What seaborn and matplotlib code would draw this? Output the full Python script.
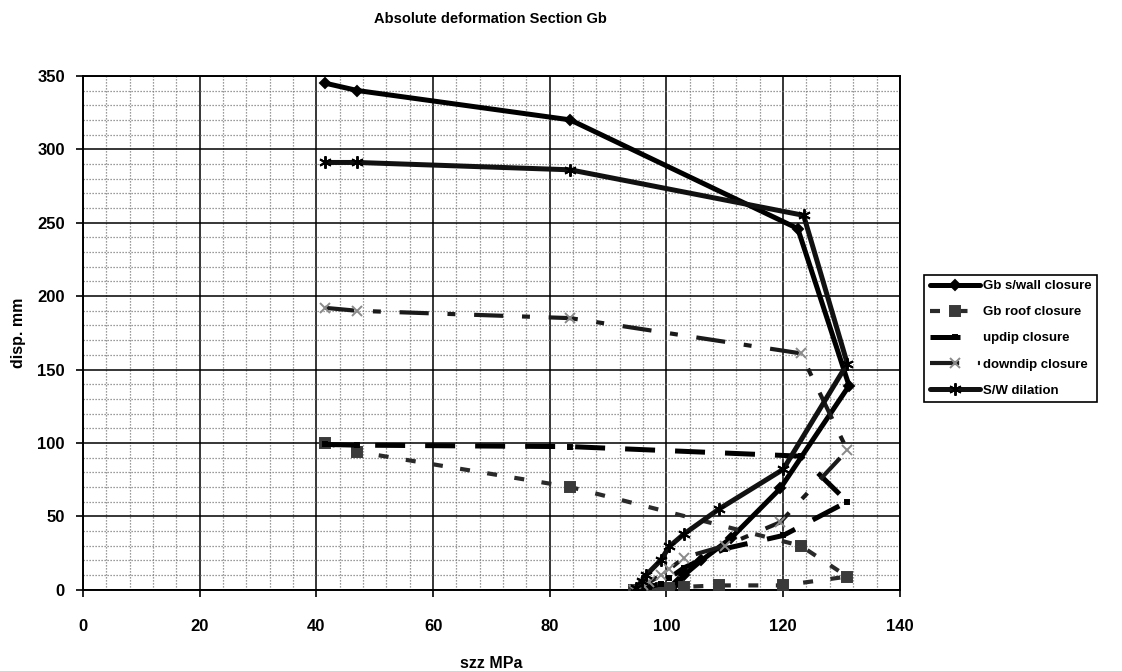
import matplotlib
matplotlib.use("Agg")
import matplotlib.pyplot as plt
from matplotlib.ticker import MultipleLocator
import seaborn as sns
import pandas as pd

sns.set_theme(style="white")
plt.rcParams["font.family"] = ["Liberation Sans", "DejaVu Sans"]
plt.rcParams["font.weight"] = "bold"
plt.rcParams["text.color"] = "black"
plt.rcParams["axes.labelcolor"] = "black"
plt.rcParams["xtick.color"] = "black"
plt.rcParams["ytick.color"] = "black"

# szz (MPa) and displacement (mm) for each measured quantity
swall_x = [41.5, 47.0, 83.5, 122.5, 131.3, 119.5, 111.0, 106.0, 103.0, 102.0, 101.0]
swall_y = [345, 340, 320, 246, 139, 69, 35, 20, 10, 5, 0]

roof_x = [41.5, 47.0, 83.5, 123.0, 131.0, 120.0, 109.0, 103.0, 100.5, 99.0, 97.0, 96.0, 94.5]
roof_y = [100, 94, 70, 30, 9, 3, 3, 2, 1.5, 1, 0.5, 0, 0]

updip_x = [41.5, 47.0, 83.5, 123.0, 131.0, 120.0, 110.0, 103.0, 100.5, 99.0, 97.0, 96.0, 94.5]
updip_y = [99, 98.5, 97.5, 91, 60, 37, 28, 15, 8, 4, 2, 1, 0]

downdip_x = [41.5, 47.0, 83.5, 123.0, 131.0, 119.5, 110.0, 103.0, 100.5, 99.0, 97.0, 96.0, 94.5]
downdip_y = [192, 190, 185, 161, 95, 46, 30, 22, 14, 10, 5, 3, 0]

dilation_x = [41.5, 47.0, 83.5, 123.5, 131.0, 120.0, 109.0, 103.0, 100.5, 99.0, 96.5, 95.8, 94.8]
dilation_y = [291, 291, 286, 255, 154, 82, 55, 38, 29.5, 20, 10, 6, 1]

series_names = ["Gb s/wall closure", "Gb roof closure", "updip closure",
                "downdip closure", "S/W dilation"]

x_ticks = [0, 20, 40, 60, 80, 100, 120, 140]
y_ticks = [0, 50, 100, 150, 200, 250, 300, 350]

fig = plt.figure(figsize=(11.22, 6.71), dpi=100)
ax = fig.add_axes([0.074, 0.121, 0.728, 0.766])

styles = [
    dict(data=(swall_x, swall_y), color="black", lw=3.6, ls="-",
         marker="D", ms=5, mfc="black", mec="black"),
    dict(data=(roof_x, roof_y), color="#2a2a2a", lw=3.0, ls=(0, (2.4, 4.2)),
         marker="s", ms=7, mfc="#3a3a3a", mec="#3a3a3a"),
    dict(data=(updip_x, updip_y), color="black", lw=3.6, ls=(0, (6, 4)),
         marker="s", ms=2.5, mfc="black", mec="black"),
    dict(data=(downdip_x, downdip_y), color="#1a1a1a", lw=3.0,
         ls=(0, (7, 4.5, 1.9, 4.5)),
         marker="x", ms=7, mfc="#888888", mec="#8a8a8a"),
    dict(data=(dilation_x, dilation_y), color="#111111", lw=3.6, ls="-",
         marker=(6, 2, 0), ms=9, mfc="black", mec="black"),
]

for name, st in zip(series_names, styles):
    xs, ys = st["data"]
    df = pd.DataFrame({"szz": xs, "disp": ys})
    sns.lineplot(data=df, x="szz", y="disp", sort=False, estimator=None,
                 ax=ax, color=st["color"], linewidth=st["lw"],
                 linestyle=st["ls"], marker=st["marker"], markersize=st["ms"],
                 markerfacecolor=st["mfc"], markeredgecolor=st["mec"],
                 markeredgewidth=1.4, label=name, zorder=3)

ax.set_xlim(0, 140)
ax.set_ylim(0, 350)
ax.set_xticks(x_ticks)
ax.set_yticks(y_ticks)
ax.set_xticklabels([str(t) for t in x_ticks], fontsize=12, fontweight="bold")
ax.set_yticklabels([str(t) for t in y_ticks], fontsize=12, fontweight="bold")
ax.xaxis.set_minor_locator(MultipleLocator(4))
ax.yaxis.set_minor_locator(MultipleLocator(10))

ax.grid(which="major", color="black", linewidth=1.1, linestyle="-", zorder=1)
ax.grid(which="minor", color="#7a7a7a", linewidth=0.9, linestyle=(0, (1, 1.4)), zorder=1)
ax.set_axisbelow(True)

ax.tick_params(axis="x", which="major", direction="out", length=5, width=1.2,
               color="black", pad=16, bottom=True)
ax.tick_params(axis="y", which="major", direction="out", length=5, width=1.2,
               color="black", pad=8, left=True)
ax.tick_params(which="minor", length=0)

for side, sp in ax.spines.items():
    sp.set_color("black")
    sp.set_linewidth(1.4)

ax.set_xlabel("szz MPa", fontsize=11.5, fontweight="bold", labelpad=16)
ax.set_ylabel("disp. mm", fontsize=11.5, fontweight="bold", labelpad=8)

fig.text(0.437, 0.972, "Absolute deformation Section Gb", ha="center", va="center",
         fontsize=10.5, fontweight="bold", color="black")

leg = ax.legend(loc="upper left", bbox_to_anchor=(1.03, 0.613), borderaxespad=0,
                frameon=True, fancybox=False, edgecolor="black", framealpha=1,
                prop={"size": 9.5, "weight": "bold"}, handlelength=3.8,
                handletextpad=0.25, labelspacing=1.05, borderpad=0.4, numpoints=1)
leg.get_frame().set_linewidth(1.2)
for txt in leg.get_texts():
    txt.set_color("black")

fig.savefig("out.png", dpi=100, facecolor="white")
